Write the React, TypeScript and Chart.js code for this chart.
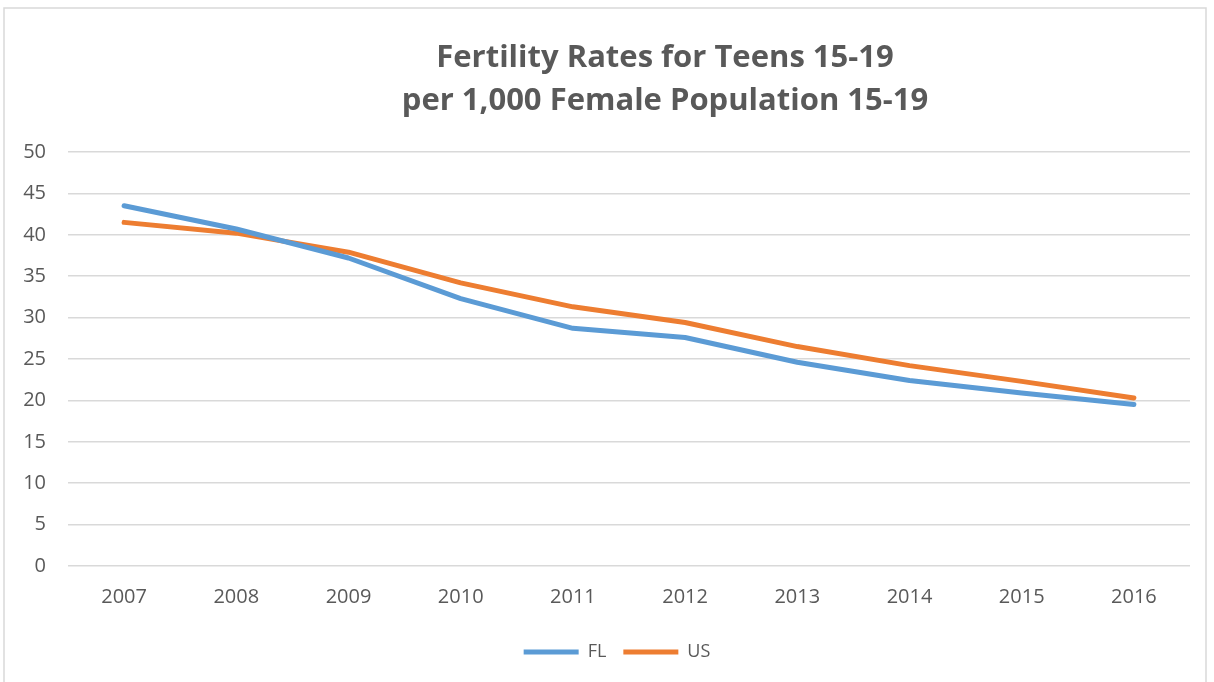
import React, { useEffect, useRef } from "react";
import { Chart, registerables } from "chart.js";

Chart.register(...registerables);

const years = ["2007", "2008", "2009", "2010", "2011", "2012", "2013", "2014", "2015", "2016"];
const flValues = [43.5, 40.7, 37.2, 32.3, 28.7, 27.6, 24.6, 22.4, 20.9, 19.5];
const usValues = [41.5, 40.2, 37.9, 34.2, 31.3, 29.4, 26.5, 24.2, 22.3, 20.3];
const titleLines = ["Fertility Rates for Teens 15-19", "per 1,000 Female Population 15-19"];

const FONT = "'Open Sans', 'Liberation Sans', sans-serif";
const GRAY = "#595959";

const framePlugin = {
  id: "frameAndTitle",
  afterLayout(chart: any) {
    const lg = chart.legend;
    if (lg) {
      lg.left += 22;
      lg.right += 22;
    }
  },
  beforeDraw(chart: any) {
    const ctx = chart.ctx;
    ctx.save();
    ctx.fillStyle = "#ffffff";
    ctx.fillRect(0, 0, chart.width, chart.height);
    ctx.strokeStyle = "#d9d9d9";
    ctx.lineWidth = 1.5;
    ctx.strokeRect(4, 8, 1202, 700);
    ctx.restore();
  },
  afterDraw(chart: any) {
    const ctx = chart.ctx;
    ctx.save();
    ctx.fillStyle = GRAY;
    ctx.font = `bold 31px ${FONT}`;
    ctx.textAlign = "center";
    ctx.textBaseline = "middle";
    ctx.fillText(titleLines[0], 665, 58);
    ctx.fillText(titleLines[1], 665, 101);
    ctx.restore();
  },
};

export default function App() {
  const ref = useRef<HTMLCanvasElement>(null);
  useEffect(() => {
    document.body.style.margin = "0";
    const chart = new Chart(ref.current!, {
      type: "line",
      data: {
        labels: years,
        datasets: [
          {
            label: "FL",
            data: flValues,
            borderColor: "#5B9BD5",
            backgroundColor: "#5B9BD5",
            borderWidth: 5,
            borderCapStyle: "round",
            borderJoinStyle: "round",
            pointRadius: 0,
            tension: 0,
          },
          {
            label: "US",
            data: usValues,
            borderColor: "#ED7D31",
            backgroundColor: "#ED7D31",
            borderWidth: 5,
            borderCapStyle: "round",
            borderJoinStyle: "round",
            pointRadius: 0,
            tension: 0,
          },
        ],
      },
      options: {
        responsive: false,
        animation: false,
        layout: { padding: { top: 152, right: 24, bottom: 11, left: 0 } },
        plugins: {
          title: { display: false },
          tooltip: { enabled: false },
          legend: {
            position: "bottom",
            labels: {
              usePointStyle: true,
              pointStyle: "line",
              pointStyleWidth: 55,
              boxHeight: 5,
              padding: 17,
              color: GRAY,
              font: { family: FONT, size: 18 },
            },
          },
        },
        scales: {
          x: {
            offset: true,
            grid: { display: false, drawTicks: false },
            border: { display: false },
            ticks: { color: GRAY, font: { family: FONT, size: 20 }, padding: 19 },
            afterFit: (axis: any) => {
              axis.height = 60;
            },
          },
          y: {
            min: 0,
            max: 50,
            ticks: { stepSize: 5, color: GRAY, font: { family: FONT, size: 20 }, padding: 22 },
            grid: { color: "#d9d9d9", lineWidth: 1.5, drawTicks: false },
            border: { display: false },
            afterFit: (axis: any) => {
              axis.width = 68;
            },
          },
        },
      },
      plugins: [framePlugin],
    });
    return () => chart.destroy();
  }, []);
  return <canvas ref={ref} width={1214} height={682} style={{ display: "block" }} />;
}
